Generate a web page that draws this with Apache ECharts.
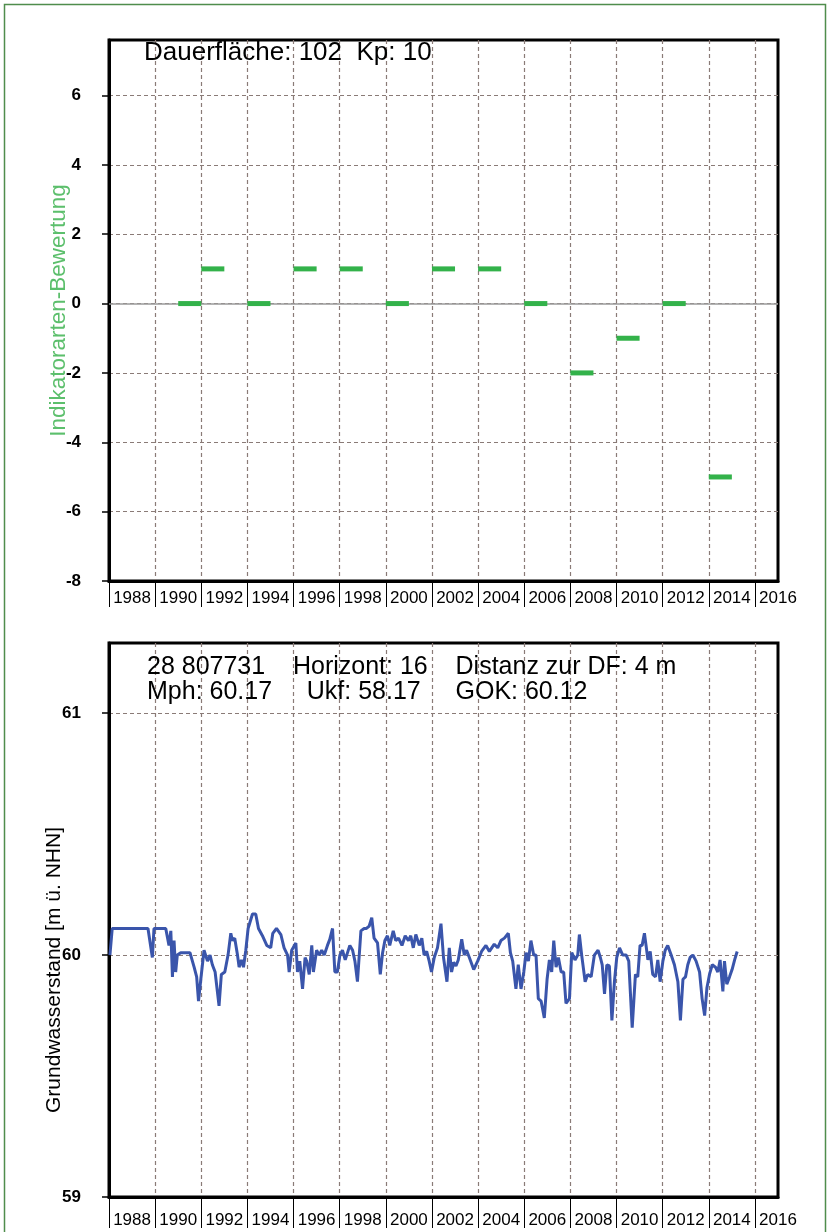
<!DOCTYPE html>
<html>
<head>
<meta charset="utf-8">
<script src="https://cdn.jsdelivr.net/npm/echarts@6/dist/echarts.min.js"></script>
<style>
  html, body { margin: 0; padding: 0; background: #fff; }
  #chart { width: 827px; height: 1232px; }
</style>
</head>
<body>
<div id="chart"></div>
<script>
// top panel: indicator species score per year (each mark spans one year)
var scoreYears = [1990, 1991, 1993, 1995, 1997, 1999, 2001, 2003, 2005, 2007, 2009, 2011, 2013];
var scoreValues = [0, 1, 0, 1, 1, 0, 1, 1, 0, -2, -1, 0, -5];

// bottom panel: groundwater level, m above NHN
var gwYear = [
  1987.04, 1987.14, 1988.69, 1988.88, 1988.95, 1989.46, 1989.60, 1989.68, 1989.75, 1989.82,
  1989.89, 1989.96, 1990.11, 1990.51, 1990.69, 1990.80, 1990.88, 1990.98, 1991.12, 1991.27,
  1991.38, 1991.48, 1991.60, 1991.77, 1991.87, 1992.02, 1992.16, 1992.28, 1992.35, 1992.45,
  1992.57, 1992.64, 1992.74, 1992.83, 1992.93, 1993.03, 1993.22, 1993.36, 1993.48, 1993.65,
  1993.84, 1994.01, 1994.10, 1994.26, 1994.45, 1994.59, 1994.74, 1994.81, 1994.92, 1995.10,
  1995.17, 1995.27, 1995.39, 1995.50, 1995.57, 1995.68, 1995.79, 1995.86, 1996.00, 1996.11,
  1996.22, 1996.33, 1996.47, 1996.57, 1996.69, 1996.79, 1996.90, 1997.01, 1997.12, 1997.24,
  1997.34, 1997.44, 1997.56, 1997.66, 1997.77, 1997.92, 1998.06, 1998.16, 1998.28, 1998.39,
  1998.49, 1998.64, 1998.76, 1998.86, 1998.96, 1999.07, 1999.17, 1999.32, 1999.43, 1999.55,
  1999.70, 1999.84, 1999.98, 2000.08, 2000.19, 2000.30, 2000.45, 2000.56, 2000.66, 2000.77,
  2000.88, 2000.98, 2001.10, 2001.24, 2001.39, 2001.50, 2001.65, 2001.75, 2001.85, 2001.94,
  2002.04, 2002.14, 2002.29, 2002.40, 2002.50, 2002.62, 2002.81, 2002.98, 2003.15, 2003.34,
  2003.49, 2003.70, 2003.85, 2003.99, 2004.14, 2004.31, 2004.40, 2004.50, 2004.64, 2004.74,
  2004.86, 2004.98, 2005.08, 2005.18, 2005.29, 2005.41, 2005.51, 2005.61, 2005.73, 2005.87,
  2005.99, 2006.09, 2006.19, 2006.28, 2006.38, 2006.48, 2006.60, 2006.71, 2006.81, 2006.96,
  2007.06, 2007.20, 2007.32, 2007.39, 2007.49, 2007.64, 2007.75, 2007.90, 2008.04, 2008.20,
  2008.30, 2008.38, 2008.48, 2008.58, 2008.69, 2008.80, 2008.91, 2009.01, 2009.13, 2009.27,
  2009.42, 2009.53, 2009.68, 2009.82, 2009.92, 2010.02, 2010.11, 2010.21, 2010.28, 2010.36,
  2010.46, 2010.57, 2010.69, 2010.79, 2010.89, 2011.01, 2011.11, 2011.22, 2011.37, 2011.51,
  2011.66, 2011.77, 2011.88, 2011.99, 2012.09, 2012.19, 2012.31, 2012.45, 2012.60, 2012.71,
  2012.82, 2012.92, 2013.03, 2013.15, 2013.29, 2013.39, 2013.49, 2013.61, 2013.68, 2013.78,
  2013.90, 2014.01, 2014.12, 2014.23
];
var gwLevel = [
  60.00, 60.11, 60.11, 59.99, 60.11, 60.11, 60.04, 60.10, 59.91, 60.06,
  59.93, 60.00, 60.01, 60.01, 59.95, 59.91, 59.81, 59.90, 60.02, 59.975,
  60.00, 59.96, 59.93, 59.79, 59.92, 59.93, 60.00, 60.09, 60.06, 60.07,
  60.00, 59.95, 59.98, 59.95, 60.02, 60.11, 60.17, 60.17, 60.11, 60.08,
  60.04, 60.03, 60.09, 60.11, 60.085, 60.03, 60.00, 59.93, 60.02, 60.05,
  59.93, 59.975, 59.86, 59.99, 59.975, 59.92, 60.04, 59.93, 60.02, 60.00,
  60.02, 60.00, 60.04, 60.065, 60.11, 59.93, 59.93, 60.00, 60.02, 59.98,
  60.01, 60.04, 60.02, 59.975, 59.89, 60.10, 60.11, 60.11, 60.12, 60.155,
  60.07, 60.05, 59.92, 60.01, 60.06, 60.08, 60.04, 60.10, 60.06, 60.07,
  60.04, 60.08, 60.06, 60.08, 60.03, 60.085, 60.04, 60.07, 60.00, 60.015,
  59.975, 59.93, 59.99, 60.03, 60.13, 59.99, 59.89, 60.03, 59.93, 59.97,
  59.955, 59.98, 60.065, 60.00, 60.02, 59.99, 59.94, 59.975, 60.015, 60.04,
  60.015, 60.045, 60.03, 60.06, 60.07, 60.09, 60.01, 59.975, 59.86, 59.96,
  59.86, 59.93, 60.01, 59.975, 60.06, 60.00, 60.00, 59.82, 59.81, 59.74,
  59.90, 59.98, 59.93, 60.06, 59.95, 59.99, 59.93, 59.93, 59.80, 59.82,
  60.01, 59.98, 60.00, 60.085, 60.00, 59.89, 59.92, 59.91, 60.00, 60.02,
  59.99, 59.96, 59.84, 59.96, 59.955, 59.73, 59.89, 59.99, 60.03, 60.00,
  60.00, 59.975, 59.70, 59.92, 59.91, 60.04, 60.04, 60.09, 60.04, 59.98,
  60.015, 59.92, 59.91, 59.98, 59.89, 59.975, 60.02, 60.04, 60.00, 59.96,
  59.89, 59.73, 59.90, 59.91, 59.96, 59.99, 60.00, 59.975, 59.93, 59.82,
  59.75, 59.865, 59.92, 59.96, 59.95, 59.93, 59.98, 59.85, 59.975, 59.88,
  59.91, 59.94, 59.98, 60.015
];

// axis ticks
var yearLabels = [1988, 1990, 1992, 1994, 1996, 1998, 2000, 2002, 2004, 2006, 2008, 2010, 2012, 2014, 2016];
var yearTicks = [1987, 1989, 1991, 1993, 1995, 1997, 1999, 2001, 2003, 2005, 2007, 2009, 2011, 2013, 2015];
var scoreTicks = [-8, -6, -4, -2, 0, 2, 4, 6];
var levelTicks = [59, 60, 61];

var FONT = '"Liberation Sans", Arial, Helvetica, sans-serif';
var gridColor = '#8a7b77';

function xAxisFor(gridIndex, labelMargin, tickLen) {
  return {
    type: 'value',
    gridIndex: gridIndex,
    min: 1987,
    max: 2016,
    axisLine: { show: true, onZero: false, lineStyle: { color: '#000', width: 3 } },
    axisTick: { show: true, customValues: yearTicks, length: tickLen, lineStyle: { color: '#000', width: 1 } },
    axisLabel: {
      customValues: yearLabels, color: '#000', fontSize: 17, fontFamily: FONT, margin: labelMargin,
      formatter: function (v) { return String(v); }
    },
    splitLine: { show: true, lineStyle: { color: gridColor, type: [4, 3], width: 1.2 } }
  };
}

function yAxisFor(gridIndex, min, max, ticks, name, nameGap, nameStyle) {
  return {
    type: 'value',
    gridIndex: gridIndex,
    min: min,
    max: max,
    name: name,
    nameLocation: 'middle',
    nameGap: nameGap,
    nameMoveOverlap: false,
    nameTextStyle: nameStyle,
    axisLine: { show: true, onZero: false, lineStyle: { color: '#000', width: 3 } },
    axisTick: { show: true, customValues: ticks, length: 7, lineStyle: { color: '#000', width: 1.5 } },
    axisLabel: { customValues: ticks, color: '#000', fontSize: 17, fontWeight: 'bold', fontFamily: FONT, margin: 28 },
    splitLine: { show: true, lineStyle: { color: gridColor, type: [4, 3], width: 1.2 } }
  };
}

var scoreData = scoreYears.map(function (y, i) { return [y, scoreValues[i]]; });
var gwData = gwYear.map(function (y, i) { return [y, gwLevel[i]]; });

var chart = echarts.init(document.getElementById('chart'), null, { renderer: 'canvas' });

var option = {
  backgroundColor: '#fff',
  animation: false,
  textStyle: { fontFamily: FONT },
  grid: [
    { left: 109, right: 49, top: 40, height: 541, show: true, borderColor: '#000', borderWidth: 3, backgroundColor: '#fff' },
    { left: 109, right: 49, top: 643, height: 554, show: true, borderColor: '#000', borderWidth: 3, backgroundColor: '#fff' }
  ],
  title: [
    { text: 'Dauerfläche: 102  Kp: 10', left: 139, top: 35,
      textStyle: { fontSize: 26, fontWeight: 'normal', color: '#000', fontFamily: FONT } },
    { text: '28 807731    Horizont: 16    Distanz zur DF: 4 m', left: 142, top: 650,
      textStyle: { fontSize: 25, fontWeight: 'normal', color: '#000', fontFamily: FONT } },
    { text: 'Mph: 60.17     Ukf: 58.17     GOK: 60.12', left: 142, top: 675,
      textStyle: { fontSize: 25, fontWeight: 'normal', color: '#000', fontFamily: FONT } }
  ],
  xAxis: [xAxisFor(0, 9, 26), xAxisFor(1, 15, 31)],
  yAxis: [
    yAxisFor(0, -8, 7.6, scoreTicks, 'Indikatorarten-Bewertung', 39,
      { color: '#5cbf6c', fontSize: 22.5, fontFamily: FONT }),
    yAxisFor(1, 59, 61.29, levelTicks, 'Grundwasserstand [m ü. NHN]', 44,
      { color: '#000', fontSize: 21, fontFamily: FONT, padding: [0, 100, 0, 0] })
  ],
  graphic: [
    { type: 'rect', silent: true, z: -10, shape: { x: 4.5, y: 4.5, width: 821, height: 1240 },
      style: { fill: 'none', stroke: '#4f8d4c', lineWidth: 1.5 } }
  ],
  series: [
    {
      type: 'custom',
      xAxisIndex: 0,
      yAxisIndex: 0,
      data: scoreData,
      z: 5,
      renderItem: function (params, api) {
        var a = api.coord([api.value(0), api.value(1)]);
        var b = api.coord([api.value(0) + 1, api.value(1)]);
        return {
          type: 'line',
          shape: { x1: a[0], y1: a[1], x2: b[0], y2: b[1] },
          style: { stroke: '#33b24a', lineWidth: 5 }
        };
      },
      markLine: {
        silent: true,
        symbol: 'none',
        label: { show: false },
        z: 1,
        lineStyle: { color: '#9a9a9a', type: 'solid', width: 1.5 },
        data: [{ yAxis: 0 }]
      }
    },
    {
      type: 'line',
      xAxisIndex: 1,
      yAxisIndex: 1,
      data: gwData,
      showSymbol: false,
      lineStyle: { color: '#3a55ab', width: 3 },
      z: 5
    }
  ]
};

chart.setOption(option);
</script>
</body>
</html>
